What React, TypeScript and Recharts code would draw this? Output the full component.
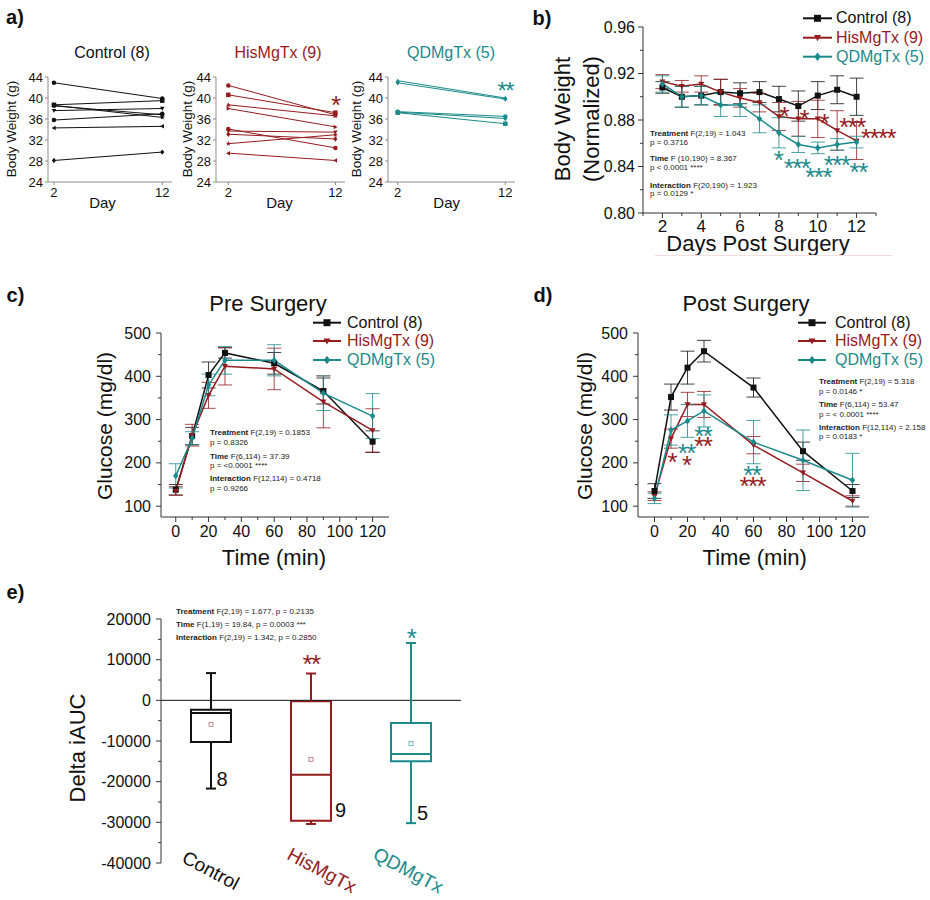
import React from 'react'
import {
  LineChart,
  Line,
  ComposedChart,
  Scatter,
  XAxis,
  YAxis,
  ErrorBar,
  ReferenceDot,
  ReferenceArea,
  ReferenceLine,
} from 'recharts'

const FONT = '"Liberation Sans", Arial, Helvetica, sans-serif'
const INK = '#111111'
const RED = '#951b1e'
const TEAL = '#1b8a8b'
const AXIS = '#333333'
const GRAY_AXIS = '#8c8c8c'

const seriesNames = ['Control (8)', 'HisMgTx (9)', 'QDMgTx (5)']
const seriesColors = [INK, RED, TEAL]
const seriesMarks = ['square', 'down', 'diamond']

// a) body weight of each mouse on day 2 and day 12
const weighDays = [2, 12]
const controlMice = [
  [42.9, 39.9], [38.7, 39.5], [38.5, 36.8], [37.6, 38.0],
  [35.8, 37.0], [34.3, 34.6], [28.1, 29.7], [38.6, 36.3],
]
const controlMouseMarks = ['circle', 'square', 'hex', 'down', 'circle', 'left', 'diamond', 'star']
const hisMice = [
  [42.4, 36.8], [40.6, 37.2], [38.7, 36.6], [38.0, 34.5], [34.1, 30.5],
  [33.7, 33.5], [33.1, 32.2], [31.3, 33.0], [29.5, 28.1],
]
const hisMouseMarks = ['circle', 'square', 'up', 'right', 'circle', 'down', 'diamond', 'star', 'left']
const qdMice = [[43.3, 40.0], [42.9, 39.8], [37.4, 36.5], [37.3, 36.1], [37.2, 35.1]]
const qdMouseMarks = ['up', 'diamond', 'circle', 'diamond', 'square']
const weightTicks = [24, 28, 32, 36, 40, 44]

// b) normalized body weight
const days = [2, 3, 4, 5, 6, 7, 8, 9, 10, 11, 12]
const bwControl = [0.908, 0.9, 0.901, 0.904, 0.903, 0.904, 0.898, 0.892, 0.901, 0.906, 0.9]
const bwControlErr = [0.005, 0.009, 0.008, 0.011, 0.009, 0.009, 0.011, 0.013, 0.012, 0.012, 0.016]
const bwHis = [0.913, 0.909, 0.911, 0.904, 0.899, 0.895, 0.883, 0.881, 0.881, 0.871, 0.862]
const bwHisErr = [0.006, 0.005, 0.007, 0.011, 0.008, 0.008, 0.012, 0.015, 0.016, 0.017, 0.016]
const bwQD = [0.911, 0.9, 0.901, 0.893, 0.893, 0.881, 0.869, 0.859, 0.856, 0.859, 0.861]
const bwQDErr = [0.007, 0.009, 0.008, 0.01, 0.01, 0.012, 0.013, 0.007, 0.005, 0.005, 0.005]
const dayTicks = [1, 2, 3, 4, 5, 6, 7, 8, 9, 10, 11, 12, 13]
const dayMajor = [2, 4, 6, 8, 10, 12]
const bwTicks = [0.8, 0.82, 0.84, 0.86, 0.88, 0.9, 0.92, 0.94, 0.96]
const bwMajor = [0.8, 0.84, 0.88, 0.92, 0.96]

// c) / d) glucose tolerance
const times = [0, 10, 20, 30, 60, 90, 120]
const preControl = [138, 262, 403, 454, 430, 366, 249]
const preControlErr = [12, 20, 30, 12, 25, 30, 25]
const preHis = [135, 264, 356, 423, 417, 341, 275]
const preHisErr = [10, 25, 30, 43, 48, 60, 50]
const preQD = [170, 257, 380, 437, 437, 361, 308]
const preQDErr = [28, 15, 25, 32, 36, 40, 52]
const postControl = [135, 352, 420, 458, 374, 227, 135]
const postControlErr = [17, 30, 38, 25, 22, 21, 15]
const postHis = [123, 256, 335, 335, 241, 177, 112]
const postHisErr = [10, 22, 28, 30, 20, 20, 12]
const postQD = [118, 276, 297, 320, 248, 206, 160]
const postQDErr = [12, 35, 38, 37, 50, 70, 62]
const timeTicks = [0, 10, 20, 30, 40, 50, 60, 70, 80, 90, 100, 110, 120]
const timeMajor = [0, 20, 40, 60, 80, 100, 120]
const glucoseTicks = [100, 150, 200, 250, 300, 350, 400, 450, 500]
const glucoseMajor = [100, 200, 300, 400, 500]

// e) delta iAUC box plot
const groups = ['Control', 'HisMgTx', 'QDMgTx']
const boxMin = [-21700, -30400, -30200]
const boxQ1 = [-10250, -29600, -15000]
const boxMedian = [-3100, -18300, -13200]
const boxQ3 = [-2300, -250, -5600]
const boxMax = [6700, 6600, 14100]
const boxMean = [-5900, -14500, -10600]
const groupN = [8, 9, 5]
const aucTicks = [-40000, -35000, -30000, -25000, -20000, -15000, -10000, -5000, 0, 5000, 10000, 15000, 20000]
const aucMajor = [-40000, -30000, -20000, -10000, 0, 10000, 20000]

// significance stars [x, y, text, color]
const bwStars: [number, number, string, string][] = [
  [8.25, 0.8885, '*', RED], [9.28, 0.8857, '*', RED], [10.31, 0.8828, '*', RED],
  [11.77, 0.8794, '***', RED], [13.1, 0.8691, '****', RED],
  [7.96, 0.8506, '*', TEAL], [8.91, 0.8434, '***', TEAL], [10.02, 0.8356, '***', TEAL],
  [10.97, 0.8465, '***', TEAL], [12.08, 0.84, '**', TEAL],
]
const postStars: [number, number, string, string][] = [
  [10.5, 215, '*', RED], [19.2, 208, '*', RED], [19.2, 236, '**', TEAL],
  [29.3, 276, '**', TEAL], [29.3, 252, '**', RED], [58.9, 185, '**', TEAL], [59.3, 160, '***', RED],
]
const aucStars: [number, number, string, string][] = [
  [2, 10400, '**', RED], [3, 16800, '*', TEAL],
]

function mark(kind: string, cx: number, cy: number, s: number, color: string) {
  const h = s / 2
  const poly = (pts: number[][]) => <polygon points={pts.map((p) => p.join(',')).join(' ')} fill={color} />
  switch (kind) {
    case 'square':
      return <rect x={cx - h} y={cy - h} width={s} height={s} fill={color} />
    case 'down':
      return poly([[cx - h, cy - h * 0.75], [cx + h, cy - h * 0.75], [cx, cy + h]])
    case 'up':
      return poly([[cx - h, cy + h * 0.75], [cx + h, cy + h * 0.75], [cx, cy - h]])
    case 'left':
      return poly([[cx + h * 0.75, cy - h], [cx + h * 0.75, cy + h], [cx - h, cy]])
    case 'right':
      return poly([[cx - h * 0.75, cy - h], [cx - h * 0.75, cy + h], [cx + h, cy]])
    case 'diamond':
      return poly([[cx, cy - h * 1.2], [cx + h * 0.9, cy], [cx, cy + h * 1.2], [cx - h * 0.9, cy]])
    case 'hex':
      return poly([0, 1, 2, 3, 4, 5].map((k) => [cx + h * Math.cos((k * Math.PI) / 3), cy + h * Math.sin((k * Math.PI) / 3)]))
    case 'star':
      return poly(
        [0, 1, 2, 3, 4, 5, 6, 7, 8, 9].map((k) => {
          const r = k % 2 === 0 ? h * 1.2 : h * 0.5
          const a = -Math.PI / 2 + (k * Math.PI) / 5
          return [cx + r * Math.cos(a), cy + r * Math.sin(a)]
        }),
      )
    default:
      return <circle cx={cx} cy={cy} r={h} fill={color} />
  }
}

const dotFn = (kind: string, color: string, s: number) => (p: any) => (
  <g key={`dot-${p.index}`}>{p.cx != null && p.cy != null ? mark(kind, p.cx, p.cy, s, color) : null}</g>
)

const near = (list: number[], v: number) => list.some((m) => Math.abs(m - v) < 1e-9)

function xTick(majors: number[], fs: number, color: string, len: number, minorLen: number, gap: number) {
  return (p: any) => {
    const v = p.payload.value
    const major = near(majors, v)
    return (
      <g>
        <line x1={p.x} x2={p.x} y1={p.y} y2={p.y + (major ? len : minorLen)} stroke={color} />
        {major && (
          <text x={p.x} y={p.y + len + gap} dy="0.71em" textAnchor="middle" fontSize={fs} fill={INK} fontFamily={FONT}>
            {v}
          </text>
        )}
      </g>
    )
  }
}

function yTick(majors: number[], fs: number, color: string, len: number, minorLen: number, gap: number, fmt: (v: number) => string = String) {
  return (p: any) => {
    const v = p.payload.value
    const major = near(majors, v)
    return (
      <g>
        <line x1={p.x - (major ? len : minorLen)} x2={p.x} y1={p.y} y2={p.y} stroke={color} />
        {major && (
          <text x={p.x - len - gap} y={p.y} dy="0.35em" textAnchor="end" fontSize={fs} fill={INK} fontFamily={FONT}>
            {fmt(v)}
          </text>
        )}
      </g>
    )
  }
}

function starDot(x: number, y: number, text: string, color: string, fs: number, key: string) {
  return (
    <ReferenceDot
      key={key}
      x={x}
      y={y}
      r={0}
      ifOverflow="visible"
      shape={(p: any) => (
        <text x={p.cx} y={p.cy + fs * 0.57} textAnchor="middle" fontSize={fs} letterSpacing={-1.6} fill={color} fontFamily={FONT}>
          {text}
        </text>
      )}
    />
  )
}

function T({ x, y, children, size = 16, color = INK, weight = 400, anchor = 'middle', rot = 0 }: any) {
  const tx = anchor === 'start' ? '0' : anchor === 'end' ? '-100%' : '-50%'
  return (
    <div
      style={{
        position: 'absolute',
        left: x,
        top: y,
        fontSize: size,
        lineHeight: 1,
        color,
        fontWeight: weight,
        whiteSpace: 'nowrap',
        fontFamily: FONT,
        transform: `translate(${tx}, -50%)${rot ? ` rotate(${rot}deg)` : ''}`,
        transformOrigin: 'center',
      }}
    >
      {children}
    </div>
  )
}

function Stats({ x, lines }: { x: number; lines: [number, string, string][] }) {
  return (
    <>
      {lines.map(([y, bold, rest], i) => (
        <T key={i} x={x} y={y} size={8} color="#222" anchor="start">
          {bold && <b>{bold}</b>}
          {rest}
        </T>
      ))}
    </>
  )
}

function Legend({ x1, x2, tx, ys }: { x1: number; x2: number; tx: number; ys: number[] }) {
  return (
    <>
      <svg width={930} height={900} style={{ position: 'absolute', left: 0, top: 0, pointerEvents: 'none' }}>
        {seriesNames.map((_, i) => (
          <g key={i}>
            <line x1={x1} x2={x2} y1={ys[i]} y2={ys[i]} stroke={seriesColors[i]} strokeWidth={2} />
            {mark(seriesMarks[i], (x1 + x2) / 2, ys[i], 7, seriesColors[i])}
          </g>
        ))}
      </svg>
      {seriesNames.map((n, i) => (
        <T key={n} x={tx} y={ys[i]} size={16} color={seriesColors[i]} anchor="start">
          {n}
        </T>
      ))}
    </>
  )
}

function MousePanel({ axisX, plotW, domainMin, mice, marks, color, extra }: any) {
  const rows = weighDays.map((d, j) => {
    const r: Record<string, number> = { day: d }
    mice.forEach((m: number[], i: number) => {
      r['m' + i] = m[j]
    })
    return r
  })
  return (
    <div style={{ position: 'absolute', left: axisX - 48, top: 60 }}>
      <LineChart width={48 + plotW + 4} height={160} data={rows} margin={{ top: 17, right: 4, bottom: 0, left: 0 }}>
        <XAxis
          dataKey="day"
          type="number"
          domain={[domainMin, 12.9]}
          ticks={weighDays}
          interval={0}
          height={38}
          tickLine={false}
          tickSize={0}
          tickMargin={0}
          axisLine={{ stroke: GRAY_AXIS }}
          tick={xTick(weighDays, 13, GRAY_AXIS, 3, 3, 3)}
        />
        <YAxis
          type="number"
          domain={[24, 44]}
          ticks={weightTicks}
          interval={0}
          width={48}
          tickLine={false}
          tickSize={0}
          tickMargin={0}
          axisLine={{ stroke: GRAY_AXIS }}
          tick={yTick(weightTicks, 13, GRAY_AXIS, 3, 3, 2)}
        />
        {mice.map((_: number[], i: number) => (
          <Line
            key={i}
            dataKey={'m' + i}
            stroke={color}
            strokeWidth={1}
            dot={dotFn(marks[i], color, 4.5)}
            activeDot={false}
            isAnimationActive={false}
          />
        ))}
        {extra}
      </LineChart>
    </div>
  )
}

function seriesLines(keys: string[], size: number) {
  return keys.map((k, i) => (
    <Line
      key={k}
      dataKey={k}
      stroke={seriesColors[i]}
      strokeWidth={1.5}
      dot={dotFn(seriesMarks[i], seriesColors[i], size)}
      activeDot={false}
      isAnimationActive={false}
    >
      <ErrorBar dataKey={k + 'E'} width={7} stroke={seriesColors[i]} strokeOpacity={0.8} strokeWidth={1} direction="y" isAnimationActive={false} />
    </Line>
  ))
}

function GlucoseChart({ left, width, domainMin, rows, stars }: any) {
  return (
    <div style={{ position: 'absolute', left, top: 300 }}>
      <LineChart width={width} height={247} data={rows} margin={{ top: 33, right: 10, bottom: 0, left: 0 }}>
        <XAxis
          dataKey="t"
          type="number"
          domain={[domainMin, 130]}
          ticks={timeTicks}
          interval={0}
          height={30}
          tickLine={false}
          tickSize={0}
          tickMargin={0}
          axisLine={{ stroke: AXIS }}
          tick={xTick(timeMajor, 16, AXIS, 5, 3, 4)}
        />
        <YAxis
          type="number"
          domain={[75, 500]}
          ticks={glucoseTicks}
          interval={0}
          width={60}
          tickLine={false}
          tickSize={0}
          tickMargin={0}
          axisLine={{ stroke: AXIS }}
          tick={yTick(glucoseMajor, 16, AXIS, 5, 3, 5)}
        />
        {seriesLines(['c', 'h', 'q'], 6)}
        {stars}
      </LineChart>
    </div>
  )
}

export default function App() {
  const bwRows = days.map((d, i) => ({
    day: d,
    c: bwControl[i],
    cE: bwControlErr[i],
    h: bwHis[i],
    hE: bwHisErr[i],
    q: bwQD[i],
    qE: bwQDErr[i],
  }))
  const preRows = times.map((t, i) => ({
    t,
    c: preControl[i],
    cE: preControlErr[i],
    h: preHis[i],
    hE: preHisErr[i],
    q: preQD[i],
    qE: preQDErr[i],
  }))
  const postRows = times.map((t, i) => ({
    t,
    c: postControl[i],
    cE: postControlErr[i],
    h: postHis[i],
    hE: postHisErr[i],
    q: postQD[i],
    qE: postQDErr[i],
  }))
  const meanPts = groups.map((_, i) => ({ x: i + 1, y: boxMean[i] }))
  const meanColors = ['#a07a7a', '#b06a6a', '#5fa3a3']
  const labelShift = [0, 11, -2.5]
  const nShift = [[5.5, -3], [24, -6.6], [6, -3.5]]

  return (
    <div style={{ position: 'absolute', left: 0, top: 0, width: 930, height: 900, background: '#fff', fontFamily: FONT, overflow: 'hidden' }}>
      {/* a) */}
      <T x={15} y={16.5} size={20} weight={700}>a)</T>
      <T x={112} y={53} size={16}>Control (8)</T>
      <T x={278} y={53} size={16} color={RED}>HisMgTx (9)</T>
      <T x={451} y={53} size={16} color={TEAL}>QDMgTx (5)</T>
      <MousePanel axisX={48} plotW={124} domainMin={1.45} mice={controlMice} marks={controlMouseMarks} color={INK} />
      <MousePanel
        axisX={216}
        plotW={129}
        domainMin={0.85}
        mice={hisMice}
        marks={hisMouseMarks}
        color={RED}
        extra={starDot(12, 39.75, '*', RED, 26, 'a2')}
      />
      <MousePanel
        axisX={388}
        plotW={127}
        domainMin={1.1}
        mice={qdMice}
        marks={qdMouseMarks}
        color={TEAL}
        extra={starDot(12, 42.5, '**', TEAL, 24, 'a3')}
      />
      {[12, 188, 357].map((x) => (
        <T key={x} x={x} y={129} size={13.5} rot={-90}>
          Body Weight (g)
        </T>
      ))}
      <T x={102.5} y={202} size={15}>Day</T>
      <T x={279.5} y={202} size={15}>Day</T>
      <T x={446.7} y={202} size={15}>Day</T>

      {/* b) */}
      <T x={542} y={18} size={20} weight={700}>b)</T>
      <div style={{ position: 'absolute', left: 580, top: 0 }}>
        <LineChart width={320} height={240} data={bwRows} margin={{ top: 27, right: 24, bottom: 0, left: 0 }}>
          <XAxis
            dataKey="day"
            type="number"
            domain={[1, 13]}
            ticks={dayTicks}
            interval={0}
            height={27}
            tickLine={false}
            tickSize={0}
            tickMargin={0}
            axisLine={{ stroke: AXIS }}
            tick={xTick(dayMajor, 17, AXIS, 5, 3, 2)}
          />
          <YAxis
            type="number"
            domain={[0.8, 0.96]}
            ticks={bwTicks}
            interval={0}
            width={63}
            tickLine={false}
            tickSize={0}
            tickMargin={0}
            axisLine={{ stroke: AXIS }}
            tick={yTick(bwMajor, 16, AXIS, 5, 3, 3, (v) => v.toFixed(2))}
          />
          {seriesLines(['c', 'h', 'q'], 6)}
          {bwStars.map(([x, y, s, col], i) => starDot(x, y, s, col, 26, 'bs' + i))}
        </LineChart>
      </div>
      <Legend x1={803} x2={832} tx={836} ys={[18.3, 37.7, 56.7]} />
      <T x={563} y={119} size={22} rot={-90}>Body Weight</T>
      <T x={592} y={119} size={22} rot={-90}>(Normalized)</T>
      <T x={758} y={243.5} size={22}>Days Post Surgery</T>
      <div style={{ position: 'absolute', left: 655, top: 255, width: 238, height: 1, background: '#f3dddd' }} />
      <Stats
        x={650}
        lines={[
          [134, 'Treatment', ' F(2,19) = 1.043'],
          [142.5, '', 'p = 0.3716'],
          [159, 'Time', ' F (10,190) = 8.367'],
          [168.3, '', 'p < 0.0001 ****'],
          [185.5, 'Interaction', ' F(20,190) = 1.923'],
          [194, '', 'p = 0.0129 *'],
        ]}
      />

      {/* c) */}
      <T x={15.5} y={295} size={20} weight={700}>c)</T>
      <T x={268} y={304} size={22}>Pre Surgery</T>
      <GlucoseChart left={101} width={298} domainMin={-9} rows={preRows} />
      <Legend x1={313} x2={341} tx={347} ys={[322.7, 341, 360]} />
      <T x={104} y={425.7} size={21} rot={-90}>Glucose (mg/dl)</T>
      <T x={274} y={558.3} size={22}>Time (min)</T>
      <Stats
        x={210}
        lines={[
          [433.3, 'Treatment', ' F(2,19) = 0.1853'],
          [443, '', 'p = 0.8326'],
          [456.7, 'Time', ' F(6,114) = 37.39'],
          [465.7, '', 'p = <0.0001 ****'],
          [479, 'Interaction', ' F(12,114) = 0.4718'],
          [488.7, '', 'p = 0.9266'],
        ]}
      />

      {/* d) */}
      <T x={543} y={295} size={20} weight={700}>d)</T>
      <T x={746} y={304} size={22}>Post Surgery</T>
      <GlucoseChart
        left={578}
        width={301}
        domainMin={-10}
        rows={postRows}
        stars={postStars.map(([x, y, s, col], i) => starDot(x, y, s, col, 26, 'ps' + i))}
      />
      <Legend x1={798} x2={826} tx={835} ys={[322.7, 341, 360]} />
      <T x={584.3} y={425.7} size={21} rot={-90}>Glucose (mg/dl)</T>
      <T x={754.7} y={557.7} size={22}>Time (min)</T>
      <Stats
        x={819}
        lines={[
          [382.3, 'Treatment', ' F(2,19) = 5.318'],
          [391.7, '', 'p = 0.0146 *'],
          [405.3, 'Time', ' F(6,114) = 53.47'],
          [415, '', 'p = < 0.0001 ****'],
          [427.7, 'Interaction', ' F(12,114) = 2.158'],
          [437.3, '', 'p = 0.0183 *'],
        ]}
      />

      {/* e) */}
      <T x={15.5} y={591.5} size={20} weight={700}>e)</T>
      <div style={{ position: 'absolute', left: 101, top: 590 }}>
        <ComposedChart width={365} height={312} margin={{ top: 29, right: 5, bottom: 39, left: 0 }}>
          <XAxis dataKey="x" type="number" domain={[0.5, 3.5]} hide />
          <YAxis
            dataKey="y"
            type="number"
            domain={[-40000, 20000]}
            ticks={aucTicks}
            interval={0}
            width={60}
            tickLine={false}
            tickSize={0}
            tickMargin={0}
            axisLine={{ stroke: AXIS }}
            tick={yTick(aucMajor, 16, AXIS, 5, 3, 5)}
          />
          <ReferenceLine y={0} stroke={INK} strokeWidth={1} />
          {groups.map((g, i) => {
            const col = seriesColors[i]
            const x = i + 1
            return [
              <ReferenceLine key={g + 'wu'} segment={[{ x, y: boxQ3[i] }, { x, y: boxMax[i] }]} stroke={col} strokeWidth={2} />,
              <ReferenceLine key={g + 'wd'} segment={[{ x, y: boxQ1[i] }, { x, y: boxMin[i] }]} stroke={col} strokeWidth={2} />,
              <ReferenceLine key={g + 'cu'} segment={[{ x: x - 0.05, y: boxMax[i] }, { x: x + 0.05, y: boxMax[i] }]} stroke={col} strokeWidth={2} />,
              <ReferenceLine key={g + 'cd'} segment={[{ x: x - 0.05, y: boxMin[i] }, { x: x + 0.05, y: boxMin[i] }]} stroke={col} strokeWidth={2} />,
              <ReferenceArea
                key={g + 'box'}
                x1={x - 0.2}
                x2={x + 0.2}
                y1={boxQ1[i]}
                y2={boxQ3[i]}
                stroke={col}
                strokeWidth={2}
                fill="none"
                fillOpacity={0}
                ifOverflow="visible"
              />,
              <ReferenceLine key={g + 'med'} segment={[{ x: x - 0.2, y: boxMedian[i] }, { x: x + 0.2, y: boxMedian[i] }]} stroke={col} strokeWidth={2} />,
              <ReferenceDot
                key={g + 'n'}
                x={x}
                y={boxMin[i]}
                r={0}
                ifOverflow="visible"
                shape={(p: any) => (
                  <text x={p.cx + nShift[i][0]} y={p.cy + nShift[i][1]} fontSize={20} fill={INK} fontFamily={FONT}>
                    {groupN[i]}
                  </text>
                )}
              />,
              <ReferenceDot
                key={g + 'lab'}
                x={x}
                y={-40000}
                r={0}
                ifOverflow="visible"
                shape={(p: any) => (
                  <text
                    x={p.cx + labelShift[i]}
                    y={p.cy + 7}
                    dy="0.36em"
                    textAnchor="middle"
                    fontSize={19}
                    fill={col}
                    fontFamily={FONT}
                    transform={`rotate(28 ${p.cx + labelShift[i]} ${p.cy + 7})`}
                  >
                    {g}
                  </text>
                )}
              />,
            ]
          })}
          <Scatter
            data={meanPts}
            dataKey="y"
            isAnimationActive={false}
            shape={(p: any) => (
              <rect x={p.cx - 2} y={p.cy - 2} width={4} height={4} fill="none" stroke={meanColors[p.payload.x - 1]} strokeWidth={0.8} />
            )}
          />
          {aucStars.map(([x, y, s, col], i) => starDot(x, y, s, col, 26, 'es' + i))}
        </ComposedChart>
      </div>
      <T x={77.5} y={747.5} size={22} rot={-90}>Delta iAUC</T>
      <Stats
        x={176}
        lines={[
          [612.3, 'Treatment', ' F(2,19) = 1.677, p = 0.2135'],
          [625, 'Time', ' F(1,19) = 19.84, p = 0.0003 ***'],
          [638.3, 'Interaction', ' F(2,19) = 1.342, p = 0.2850'],
        ]}
      />
    </div>
  )
}
